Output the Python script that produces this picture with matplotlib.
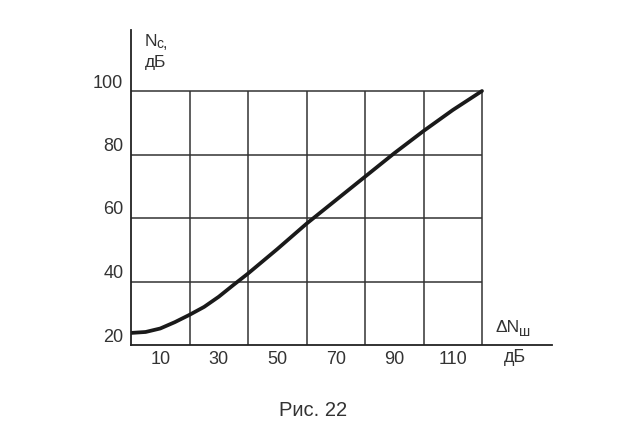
import matplotlib
matplotlib.use("Agg")
import matplotlib.pyplot as plt
import matplotlib.transforms as mtransforms

# Data
x_vals = [0, 5, 10, 15, 20, 25, 30, 35, 40, 50, 60, 70, 80, 90, 100, 110, 120]
y_vals = [23.8, 24.1, 25.2, 27.2, 29.5, 32.0, 35.2, 38.9, 42.5, 50.2, 58.2, 65.6, 73.0, 80.4, 87.4, 94.0, 100.0]
x_grid = [20, 40, 60, 80, 100, 120]
y_grid = [40, 60, 80, 100]
x_tick_pos = [10, 30, 50, 70, 90, 110]
x_tick_labels = ["10", "30", "50", "70", "90", "110"]
y_tick_pos = [20, 40, 60, 80, 100]
y_tick_labels = ["20", "40", "60", "80", "100"]

plt.rcParams['font.family'] = ['Liberation Sans', 'DejaVu Sans']

fig = plt.figure(figsize=(6.27, 4.38), dpi=100)
ax = fig.add_axes([131/627, 1-345/438, (552-131)/627, (345-30)/438])
ax.set_xlim(0, 120*(552-131)/(482-131))
ax.set_ylim(20, 20 + (345-30)/63.5*20)

for s in ['top', 'right']:
    ax.spines[s].set_visible(False)
for s in ['left', 'bottom']:
    ax.spines[s].set_color('#222222')
    ax.spines[s].set_linewidth(1.3)

gc = '#333333'
for gx in x_grid:
    ax.plot([gx, gx], [20, 100], color=gc, lw=1.1, solid_capstyle='butt')
for gy in y_grid:
    ax.plot([0, 120], [gy, gy], color=gc, lw=1.1, solid_capstyle='butt')

ax.plot(x_vals, y_vals, color='#1a1a1a', lw=2.7, solid_capstyle='round',
        solid_joinstyle='round')

tc = '#333333'
ax.set_xticks(x_tick_pos)
ax.set_xticklabels(x_tick_labels, fontsize=13, color=tc)
ax.set_yticks(y_tick_pos)
ax.set_yticklabels(y_tick_labels, fontsize=13, color=tc)
ax.tick_params(axis='both', length=0)
ax.tick_params(axis='x', pad=4.5)
ax.tick_params(axis='y', pad=5.5)
off = mtransforms.ScaledTranslation(0, 10/100, fig.dpi_scale_trans)
for lab in ax.get_yticklabels():
    lab.set_transform(lab.get_transform() + off)

# y-axis label
fig.text(145/627, 1-41/438, "N", fontsize=12.5, color=tc, ha='left', va='center')
fig.text(156.5/627, 1-44.5/438, "c", fontsize=10, color=tc, ha='left', va='center')
fig.text(162.5/627, 1-43/438, ",", fontsize=11.5, color=tc, ha='left', va='center')
fig.text(145/627, 1-62/438, "дБ", fontsize=12.5, color=tc, ha='left', va='center')

# x-axis label
fig.text(496/627, 1-328/438, "ΔN", fontsize=12.5, color=tc, ha='left', va='center')
fig.text(519.5/627, 1-331.5/438, "ш", fontsize=10, color=tc, ha='left', va='center')
fig.text(515/627, 1-358/438, "дБ", fontsize=13, color=tc, ha='center', va='center')

# caption
fig.text(313/627, 1-411/438, "Рис. 22", fontsize=14.5, color=tc, ha='center', va='center')

fig.savefig("out.png", dpi=100)
